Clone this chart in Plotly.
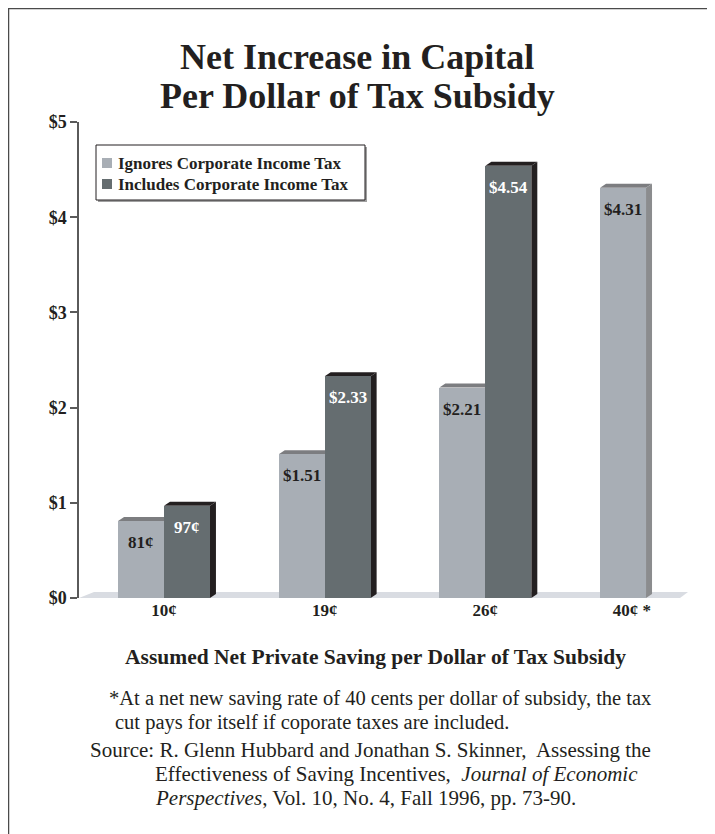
import plotly.graph_objects as go

# ---------------- data ----------------
categories = ["10¢", "19¢", "26¢", "40¢ *"]
ignores_values = [0.81, 1.51, 2.21, 4.31]
includes_values = [0.97, 2.33, 4.54, None]
ignores_labels = ["81¢", "$1.51", "$2.21", "$4.31"]
includes_labels = ["97¢", "$2.33", "$4.54", ""]
y_tick_values = [0, 1, 2, 3, 4, 5]
y_tick_labels = ["$0", "$1", "$2", "$3", "$4", "$5"]
series_names = ["Ignores Corporate Income Tax", "Includes Corporate Income Tax"]

# ---------------- geometry / style ----------------
OFF = 8                      # default page margin of the html body
W, H = 715 - OFF, 834 - OFF
ML, MR, MT, MB = 79 - OFF, 10, 122 - OFF, 236
PW, PH = W - ML - MR, H - MT - MB
x_range = [-0.529, 3.367]
y_range = [0, 5]
ux = PW / (x_range[1] - x_range[0])
uy = PH / (y_range[1] - y_range[0])
bar_w = 0.286
dx, dy = 6 / ux, 4 / uy

FONT = "Liberation Serif"
INK = "#231f20"
LIGHT, LIGHT_TOP, LIGHT_SIDE = "#a8aeb5", "#7c7d80", "#8b8c8e"
DARK, DARK_TOP, DARK_SIDE = "#656d70", "#231f20", "#231f20"


def px_x(px):
    """page x pixel -> paper x"""
    return (px - OFF - ML) / PW


def px_y(py):
    """page y pixel -> paper y"""
    return (H - MB - (py - OFF)) / PH


def dxu(px):
    """page x pixel -> data x"""
    return x_range[0] + (px - OFF - ML) / ux


xs = list(range(len(categories)))
# label position: single-bar groups get the label under their one bar
tick_pos = [i if includes_values[i] is not None else i - bar_w / 2 + 0.055 for i in xs]

fig = go.Figure()
fig.add_trace(go.Bar(x=xs, y=ignores_values, name=series_names[0], width=bar_w,
                     offset=-bar_w, marker=dict(color=LIGHT, line=dict(width=0)),
                     showlegend=False))
fig.add_trace(go.Bar(x=xs, y=includes_values, name=series_names[1], width=bar_w,
                     offset=0, marker=dict(color=DARK, line=dict(width=0)),
                     showlegend=False))

shapes = []
# floor
fy = 6 / uy
shapes.append(dict(type="path", xref="x", yref="y", layer="below",
                   path=f"M{dxu(79)},0 L{dxu(94)},{fy} L{dxu(688)},{fy} L{dxu(680)},0 Z",
                   fillcolor="#d9dce2", line=dict(width=0)))


def faces(xl, xr, v, top, side):
    out = []
    out.append(dict(type="path", xref="x", yref="y", layer="below",
                    path=f"M{xl},{v} L{xr},{v} L{xr+dx},{v+dy} L{xl+dx},{v+dy} Z",
                    fillcolor=top, line=dict(width=0)))
    out.append(dict(type="path", xref="x", yref="y", layer="below",
                    path=f"M{xr},0 L{xr},{v} L{xr+dx},{v+dy} L{xr+dx},{dy} Z",
                    fillcolor=side, line=dict(width=0)))
    return out


annotations = []
for i, v in enumerate(ignores_values):
    shapes += faces(i - bar_w, i, v, LIGHT_TOP, LIGHT_SIDE)
    annotations.append(dict(x=i - bar_w / 2, y=v, xref="x", yref="y", text=ignores_labels[i],
                            showarrow=False, yanchor="top", yshift=-10,
                            font=dict(family=FONT, size=17, color=INK, weight="bold")))
for i, v in enumerate(includes_values):
    if v is None:
        continue
    shapes += faces(i, i + bar_w, v, DARK_TOP, DARK_SIDE)
    annotations.append(dict(x=i + bar_w / 2, y=v, xref="x", yref="y", text=includes_labels[i],
                            showarrow=False, yanchor="top", yshift=-10,
                            font=dict(family=FONT, size=17, color="white", weight="bold")))

# outer frame
shapes.append(dict(type="rect", xref="paper", yref="paper", layer="above",
                   x0=px_x(8.5), x1=px_x(708), y0=px_y(850), y1=px_y(8.5),
                   line=dict(color="#4a4a4a", width=1.5), fillcolor="rgba(0,0,0,0)"))

# legend box (drawn manually to match the compact original)
shapes.append(dict(type="rect", xref="paper", yref="paper", layer="above",
                   x0=px_x(98), x1=px_x(367), y0=px_y(202), y1=px_y(147),
                   line=dict(width=0), fillcolor="#a0a0a0"))
shapes.append(dict(type="rect", xref="paper", yref="paper", layer="above",
                   x0=px_x(96), x1=px_x(365), y0=px_y(200), y1=px_y(145),
                   line=dict(color=INK, width=1), fillcolor="white"))
for (yc, col, name) in [(163, LIGHT, series_names[0]), (184, DARK, series_names[1])]:
    shapes.append(dict(type="rect", xref="paper", yref="paper", layer="above",
                       x0=px_x(102), x1=px_x(112), y0=px_y(yc + 5), y1=px_y(yc - 5),
                       line=dict(width=0), fillcolor=col))
    annotations.append(dict(xref="paper", yref="paper", x=px_x(116), y=px_y(yc), text=name,
                            showarrow=False, xanchor="left", yanchor="middle",
                            font=dict(family=FONT, size=17, color=INK, weight="bold")))

# title (two lines)
for yc, t in [(57, "Net Increase in Capital"), (96, "Per Dollar of Tax Subsidy")]:
    annotations.append(dict(xref="paper", yref="paper", x=px_x(357), y=px_y(yc), text=t,
                            showarrow=False, xanchor="center", yanchor="middle",
                            font=dict(family=FONT, size=36, color=INK, weight="bold")))

# x axis title
annotations.append(dict(xref="paper", yref="paper", x=px_x(375), y=px_y(657),
                        text="Assumed Net Private Saving per Dollar of Tax Subsidy",
                        showarrow=False, xanchor="center", yanchor="middle",
                        font=dict(family=FONT, size=21.5, color=INK, weight="bold")))

notes = [
    (107, 698, 20.5, "*At a net new saving rate of 40 cents per dollar of subsidy, the tax"),
    (113, 722, 20.5, "cut pays for itself if coporate taxes are included."),
    (88, 750, 21, "Source: R. Glenn Hubbard and Jonathan S. Skinner,  Assessing the"),
    (153, 774, 21, "Effectiveness of Saving Incentives,  <i>Journal of Economic</i>"),
    (153, 798, 21, "<i>Perspectives</i>, Vol. 10, No. 4, Fall 1996, pp. 73-90."),
]
for x0, y0, fs, t in notes:
    annotations.append(dict(xref="paper", yref="paper", x=px_x(x0), y=px_y(y0), text=t,
                            showarrow=False, xanchor="left", yanchor="middle",
                            font=dict(family=FONT, size=fs, color=INK)))

fig.update_layout(
    width=W, height=H,
    margin=dict(l=ML, r=MR, t=MT, b=MB),
    paper_bgcolor="white", plot_bgcolor="white",
    barmode="overlay", bargap=0,
    xaxis=dict(range=x_range, tickvals=tick_pos, ticktext=categories, showline=False,
               showgrid=False, zeroline=False, ticks="",
               tickfont=dict(family=FONT, size=17, color=INK, weight="bold")),
    yaxis=dict(range=y_range, tickvals=y_tick_values, ticktext=y_tick_labels,
               showline=True, linecolor="#5a5a5a", linewidth=1.5,
               ticks="outside", ticklen=7, tickcolor="#5a5a5a", tickwidth=1.5,
               showgrid=False, zeroline=False,
               tickfont=dict(family=FONT, size=18, color=INK, weight="bold")),
    shapes=shapes,
    annotations=annotations,
    showlegend=False,
)

fig.write_html("out.html")
